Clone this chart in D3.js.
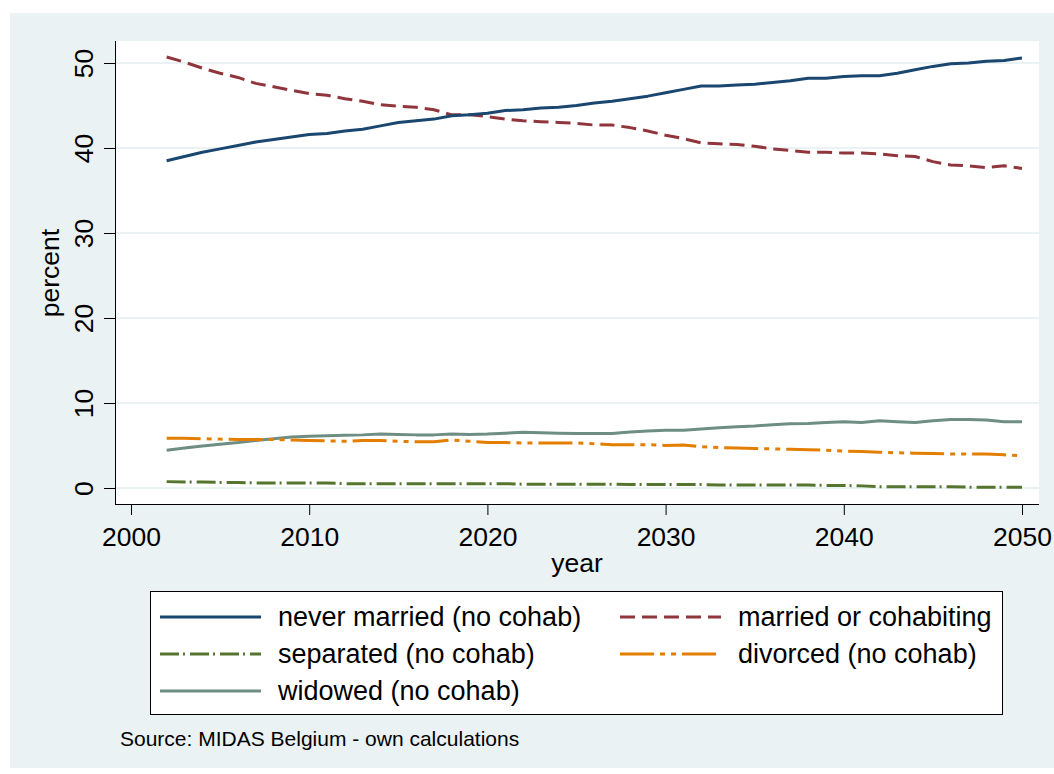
<!DOCTYPE html>
<meta charset="utf-8">
<style>
body { margin: 0; background: #fff; }
text { font-family: "Liberation Sans", Arial, sans-serif; fill: #000; }
.series { fill: none; stroke-width: 3px; stroke-linejoin: round; }
</style>
<body>
<script src="https://cdn.jsdelivr.net/npm/d3@7"></script>
<script>
var width = 1054,
    height = 774;

// values, one per year 2002..2050
var years = d3.range(2002, 2051);

var neverMarried = [38.5, 39.0, 39.5, 39.9, 40.3, 40.7, 41.0, 41.3, 41.6, 41.7,
  42.0, 42.2, 42.6, 43.0, 43.2, 43.4, 43.8, 43.9, 44.1, 44.4,
  44.5, 44.7, 44.8, 45.0, 45.3, 45.5, 45.8, 46.1, 46.5, 46.9,
  47.3, 47.3, 47.4, 47.5, 47.7, 47.9, 48.2, 48.2, 48.4, 48.5,
  48.5, 48.8, 49.2, 49.6, 49.9, 50.0, 50.2, 50.3, 50.6];

var married = [50.7, 50.1, 49.4, 48.8, 48.3, 47.6, 47.2, 46.8, 46.4, 46.2,
  45.8, 45.5, 45.1, 44.9, 44.8, 44.5, 43.9, 43.9, 43.7, 43.4,
  43.2, 43.1, 43.0, 42.9, 42.7, 42.7, 42.4, 42.0, 41.5, 41.1,
  40.6, 40.5, 40.4, 40.2, 39.9, 39.7, 39.5, 39.5, 39.4, 39.4,
  39.3, 39.1, 39.0, 38.4, 38.0, 37.9, 37.7, 37.9, 37.6];

var separated = [0.75, 0.7, 0.7, 0.65, 0.65, 0.6, 0.6, 0.6, 0.6, 0.6,
  0.5, 0.5, 0.5, 0.5, 0.5, 0.5, 0.5, 0.5, 0.5, 0.5,
  0.45, 0.45, 0.45, 0.45, 0.45, 0.45, 0.4, 0.4, 0.4, 0.4,
  0.4, 0.35, 0.35, 0.35, 0.35, 0.35, 0.35, 0.3, 0.3, 0.25,
  0.15, 0.15, 0.15, 0.15, 0.15, 0.1, 0.1, 0.1, 0.1];

var divorced = [5.85, 5.85, 5.8, 5.75, 5.7, 5.7, 5.7, 5.65, 5.6, 5.55,
  5.5, 5.6, 5.6, 5.5, 5.45, 5.45, 5.65, 5.5, 5.35, 5.35,
  5.3, 5.3, 5.3, 5.3, 5.2, 5.1, 5.1, 5.1, 5.0, 5.05,
  4.85, 4.75, 4.7, 4.65, 4.6, 4.55, 4.5, 4.45, 4.35, 4.3,
  4.2, 4.15, 4.1, 4.05, 4.0, 4.0, 4.0, 3.9, 3.8];

var widowed = [4.45, 4.7, 4.95, 5.15, 5.35, 5.6, 5.8, 6.0, 6.1, 6.15,
  6.2, 6.25, 6.35, 6.3, 6.25, 6.25, 6.35, 6.3, 6.35, 6.45,
  6.55, 6.5, 6.45, 6.4, 6.4, 6.4, 6.6, 6.7, 6.8, 6.8,
  6.95, 7.1, 7.2, 7.3, 7.45, 7.55, 7.6, 7.7, 7.8, 7.7,
  7.9, 7.8, 7.7, 7.9, 8.05, 8.05, 8.0, 7.8, 7.8];

var seriesNames = ["never married (no cohab)", "married or cohabiting",
  "separated (no cohab)", "divorced (no cohab)", "widowed (no cohab)"];
var seriesColors = ["#1a476f", "#90353b", "#55752f", "#e37e00", "#6e8e84"];
var seriesDash = [null, "15,7", "19,4,2,5", "34,6,5,6,5,6", null];

var xTicks = [2000, 2010, 2020, 2030, 2040, 2050];
var yTicks = [0, 10, 20, 30, 40, 50];

var series = [neverMarried, married, separated, divorced, widowed].map(function(v, i) {
  return {
    name: seriesNames[i],
    color: seriesColors[i],
    dash: seriesDash[i],
    values: v.map(function(d, j) { return [years[j], d]; })
  };
});

var svg = d3.select("body").append("svg")
    .attr("width", width)
    .attr("height", height);

// outer graph region
svg.append("rect")
    .attr("x", 10).attr("y", 13)
    .attr("width", 1044).attr("height", 755)
    .attr("fill", "#eaf2f3");

var plot = {left: 115, top: 41, right: 1039, bottom: 504};

svg.append("rect")
    .attr("x", plot.left).attr("y", plot.top)
    .attr("width", plot.right - plot.left).attr("height", plot.bottom - plot.top)
    .attr("fill", "#fff");

var x = d3.scaleLinear().domain([2000, 2050]).range([131, 1022]);
var y = d3.scaleLinear().domain([0, 50]).range([488, 63]);

// gridlines
svg.append("g").selectAll("line")
    .data(yTicks)
  .enter().append("line")
    .attr("x1", plot.left).attr("x2", plot.right)
    .attr("y1", y).attr("y2", y)
    .attr("stroke", "#eaf2f3")
    .attr("stroke-width", 2);

// y axis
var yAxis = svg.append("g")
    .attr("transform", "translate(" + plot.left + ",0)")
    .call(d3.axisLeft(y).tickValues(yTicks).tickSize(11).tickSizeOuter(0).tickFormat(d3.format("d")));
yAxis.select(".domain").attr("d", "M0.5," + plot.top + "V" + plot.bottom);
yAxis.selectAll(".tick text")
    .attr("font-size", 26.5)
    .attr("font-family", null)
    .attr("x", null).attr("dy", null)
    .attr("text-anchor", "middle")
    .attr("transform", "translate(-22,0) rotate(-90)");

// x axis
var xAxis = svg.append("g")
    .attr("transform", "translate(0," + plot.bottom + ")")
    .call(d3.axisBottom(x).tickValues(xTicks).tickSize(11).tickSizeOuter(0).tickFormat(d3.format("d")));
xAxis.select(".domain").attr("d", "M" + plot.left + ",0.5H" + plot.right);
xAxis.selectAll(".tick text")
    .attr("font-size", 26.5)
    .attr("font-family", null)
    .attr("y", 42).attr("dy", null);

svg.append("text")
    .attr("x", 577).attr("y", 572)
    .attr("text-anchor", "middle")
    .attr("font-size", 26.5)
    .text("year");

svg.append("text")
    .attr("transform", "translate(59,273) rotate(-90)")
    .attr("text-anchor", "middle")
    .attr("font-size", 26.5)
    .text("percent");

// data lines
var line = d3.line()
    .x(function(d) { return x(d[0]); })
    .y(function(d) { return y(d[1]); });

svg.append("g").selectAll("path")
    .data(series.slice().reverse())
  .enter().append("path")
    .attr("class", "series")
    .attr("d", function(d) { return line(d.values); })
    .attr("stroke", function(d) { return d.color; })
    .attr("stroke-dasharray", function(d) { return d.dash; });

// legend
svg.append("rect")
    .attr("x", 150.5).attr("y", 591.5)
    .attr("width", 852).attr("height", 123)
    .attr("fill", "#fff")
    .attr("stroke", "#000")
    .attr("stroke-width", 1);

var legend = svg.append("g").selectAll("g")
    .data(series)
  .enter().append("g")
    .attr("transform", function(d, i) {
      return "translate(" + (i % 2 ? 620 : 160) + "," + (617 + Math.floor(i / 2) * 37) + ")";
    });

legend.append("line")
    .attr("x1", 0).attr("x2", 101)
    .attr("stroke", function(d) { return d.color; })
    .attr("stroke-width", 3)
    .attr("stroke-dasharray", function(d) { return d.dash; });

legend.append("text")
    .attr("x", 118).attr("y", 9)
    .attr("font-size", 27)
    .text(function(d) { return d.name; });

svg.append("text")
    .attr("x", 120).attr("y", 746)
    .attr("font-size", 21)
    .text("Source: MIDAS Belgium - own calculations");
</script>
